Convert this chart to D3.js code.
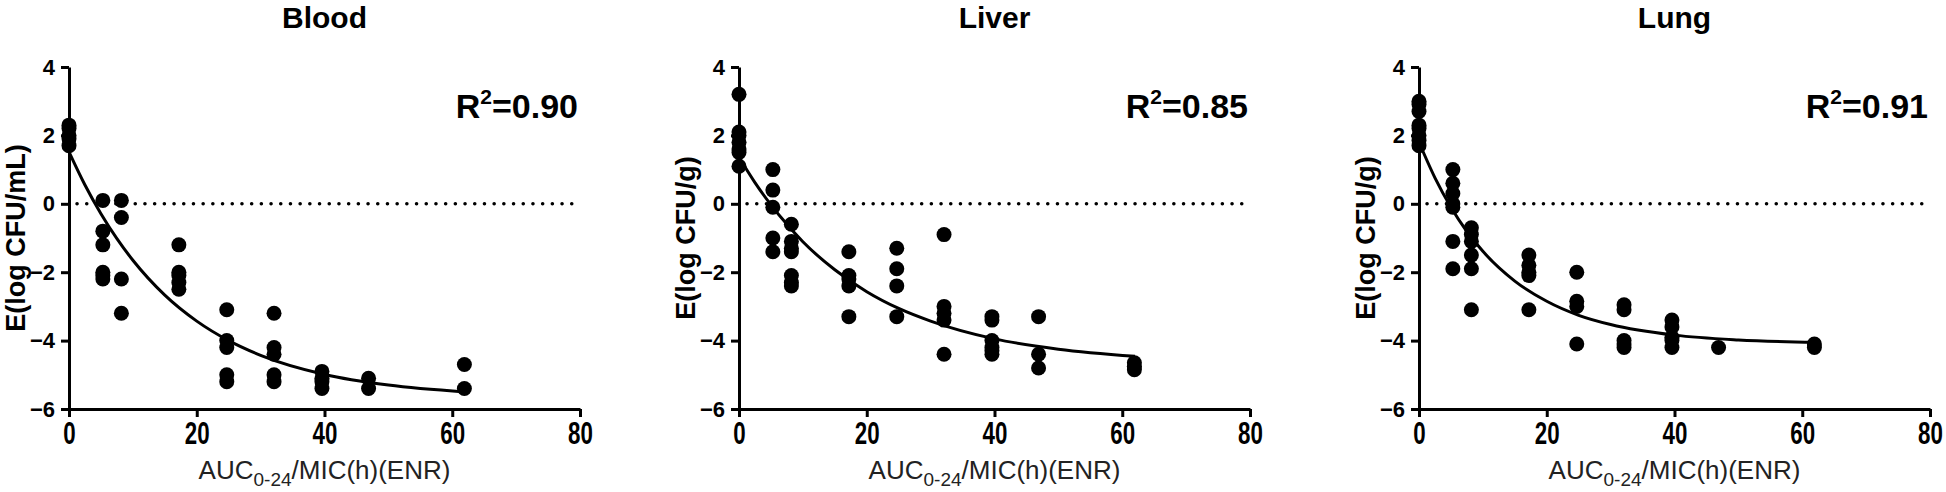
<!DOCTYPE html>
<html>
<head>
<meta charset="utf-8">
<script src="https://cdn.jsdelivr.net/npm/d3@7"></script>
<style>
	body { margin: 0; background: #fff; }
	svg { display: block; font-family: "Liberation Sans", Arial, sans-serif; }
</style>
</head>
<body>
<svg id="chart" width="1946" height="492"></svg>
<script>
// dose groups on the x axis (AUC0-24/MIC)
const doses = [0, 5.3, 8.2, 17.2, 24.7, 32.1, 39.6, 46.9, 61.9];

const bloodPoints = [
	[2.3, 2.2, 2.0, 1.9, 1.7],
	[0.1, -0.8, -1.2, -2.0, -2.1, -2.2],
	[0.1, -0.4, -2.2, -3.2],
	[-1.2, -2.0, -2.1, -2.3, -2.5],
	[-3.1, -4.0, -4.2, -5.0, -5.2],
	[-3.2, -4.2, -4.4, -5.0, -5.2],
	[-4.9, -5.1, -5.2, -5.4],
	[-5.1, -5.4],
	[-4.7, -5.4]
];
const liverPoints = [
	[3.2, 2.1, 2.0, 1.8, 1.6, 1.5, 1.1],
	[1.0, 0.4, -0.1, -1.0, -1.4],
	[-0.6, -1.1, -1.3, -1.4, -2.1, -2.3, -2.4],
	[-1.4, -2.1, -2.2, -2.4, -3.3],
	[-1.3, -1.9, -2.4, -3.3],
	[-0.9, -3.0, -3.2, -3.4, -4.4],
	[-3.3, -3.4, -4.0, -4.2, -4.3, -4.4],
	[-3.3, -4.4, -4.8],
	[-4.65, -4.75, -4.85]
];
const lungPoints = [
	[3.0, 2.9, 2.7, 2.3, 2.2, 2.0, 1.85, 1.7],
	[1.0, 0.6, 0.3, 0.0, -0.1, -1.1, -1.9],
	[-0.7, -0.9, -1.1, -1.5, -1.9, -3.1],
	[-1.5, -1.8, -2.0, -2.1, -3.1],
	[-2.0, -2.85, -3.0, -4.1],
	[-2.95, -3.1, -4.0, -4.1, -4.2],
	[-3.4, -3.6, -3.9, -4.0, -4.2],
	[-4.2],
	[-4.1, -4.2]
];

// fitted curves, sampled off the figure
const curveX = [0, 2.5, 5, 7.5, 10, 15, 20, 25, 30, 40, 50, 62];
const bloodFit = [1.52, 0.55, -0.29, -1.02, -1.65, -2.67, -3.43, -4.0, -4.43, -4.99, -5.3, -5.5];
const liverFit = [1.36, 0.62, -0.03, -0.6, -1.11, -1.93, -2.57, -3.06, -3.43, -3.95, -4.25, -4.46];
const lungFit = [1.8, 0.76, -0.1, -0.81, -1.39, -2.26, -2.85, -3.26, -3.53, -3.84, -3.98, -4.05];

const titles = ["Blood", "Liver", "Lung"];
const yLabels = ["E(log CFU/mL)", "E(log CFU/g)", "E(log CFU/g)"];
const r2Labels = ["0.90", "0.85", "0.91"];
const xTicks = [0, 20, 40, 60, 80];
const yTicks = [4, 2, 0, -2, -4, -6];

const panels = [
	{points: bloodPoints, fit: bloodFit, left: 69},
	{points: liverPoints, fit: liverFit, left: 739},
	{points: lungPoints, fit: lungFit, left: 1419}
];

const plotW = 511;
const plotTop = 67, plotBottom = 409;
const svg = d3.select("#chart");

panels.forEach((p, i) => {
	const g = svg.append("g").attr("transform", `translate(${p.left},0)`);
	const x = d3.scaleLinear().domain([0, 80]).range([0, plotW]);
	const y = d3.scaleLinear().domain([-6, 4]).range([plotBottom, plotTop]);

	// title
	g.append("text").attr("x", plotW / 2).attr("y", 28).attr("text-anchor", "middle")
		.attr("font-size", 30).attr("font-weight", "bold").text(titles[i]);

	// dotted zero line
	g.append("line").attr("x1", x(0) + 8).attr("x2", x(80)).attr("y1", y(0)).attr("y2", y(0))
		.attr("stroke", "#000").attr("stroke-width", 3.5).attr("stroke-linecap", "round")
		.attr("stroke-dasharray", "0.1 9.6");

	// axes
	const xa = g.append("g").attr("transform", `translate(0,${plotBottom})`)
		.call(d3.axisBottom(x).tickValues(xTicks).tickSize(8).tickPadding(5).tickSizeOuter(0));
	xa.selectAll("text").attr("font-size", 31).attr("font-weight", "bold")
		.attr("font-family", "'Liberation Sans', Arial, sans-serif").attr("fill", "#000")
		.attr("transform", "scale(0.72,1)");
	const ya = g.append("g")
		.call(d3.axisLeft(y).tickValues(yTicks).tickSize(8).tickPadding(6).tickSizeOuter(0));
	ya.selectAll("text").attr("font-size", 22).attr("font-weight", "bold")
		.attr("font-family", "'Liberation Sans', Arial, sans-serif").attr("fill", "#000");
	g.selectAll(".domain, .tick line").attr("stroke", "#000").attr("stroke-width", 3);

	// y label
	g.append("text").attr("transform", `translate(-44,${(plotTop + plotBottom) / 2}) rotate(-90)`)
		.attr("text-anchor", "middle").attr("font-size", 27).attr("font-weight", "bold")
		.text(yLabels[i]);

	// x label with subscript
	const xl = g.append("text").attr("x", plotW / 2).attr("y", 479).attr("text-anchor", "middle")
		.attr("font-size", 26).attr("fill", "#222");
	xl.append("tspan").text("AUC");
	xl.append("tspan").attr("font-size", 19).attr("dy", 7).text("0-24");
	xl.append("tspan").attr("dy", -7).text("/MIC(h)(ENR)");

	// R squared
	const rt = g.append("text").attr("x", plotW - 2).attr("y", 118).attr("text-anchor", "end")
		.attr("font-size", 34).attr("font-weight", "bold");
	rt.append("tspan").text("R");
	rt.append("tspan").attr("font-size", 21).attr("dy", -14).text("2");
	rt.append("tspan").attr("dy", 14).text("=" + r2Labels[i]);

	// fitted curve
	const line = d3.line().curve(d3.curveMonotoneX).x((d, j) => x(curveX[j])).y(d => y(d));
	g.append("path").attr("d", line(p.fit)).attr("fill", "none")
		.attr("stroke", "#000").attr("stroke-width", 3);

	// data points
	const pts = p.points.flatMap((vals, j) => vals.map(v => ({dose: doses[j], v})));
	g.append("g").selectAll("circle").data(pts).enter().append("circle")
		.attr("cx", d => x(d.dose)).attr("cy", d => y(d.v)).attr("r", 7.5).attr("fill", "#000");
});
</script>
</body>
</html>
